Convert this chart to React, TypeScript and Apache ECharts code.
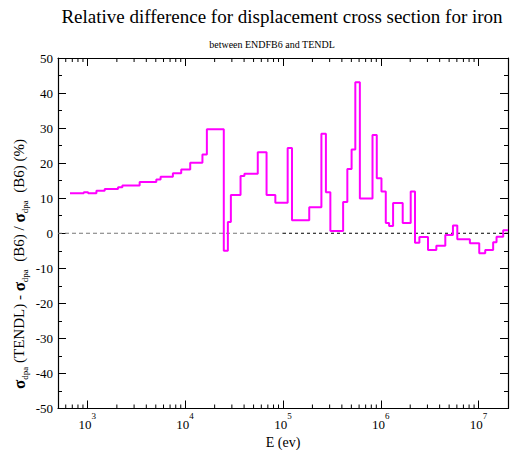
import React, { useEffect, useRef } from 'react';
import * as echarts from 'echarts';

// Step start energies (eV); last entry closes the final step
const energyEdges = [
  663, 917, 1016, 1236, 1502, 2055, 2276, 3420, 5060, 5600, 7480, 9100, 11250, 15000, 16650,
  24800, 27300, 29300, 36800, 40300, 55200, 67900, 83500, 111600, 123600, 185500, 247000,
  274700, 305000, 412000, 455000, 503000, 549000, 611000, 823000, 910000, 1016000, 1125000,
  1216000, 1336000, 1676000, 2023000, 2238000, 2483000, 3040000, 3700000, 4570000, 5470000,
  6060000, 8150000, 10160000, 11700000, 14100000, 15270000, 17860000, 20000000,
];
// Relative difference (%) for each step
const diffPercent = [
  11.4, 11.7, 11.4, 12.1, 12.6, 13.1, 13.6, 14.6, 15.3, 16.1, 17.1, 18.2, 20.1, 22.5, 29.7,
  -5.0, 3.2, 10.9, 16.3, 17.0, 23.1, 10.9, 8.7, 24.3, 3.7, 7.4, 28.4,
  11.7, 0.65, 8.9, 18.3, 23.9, 43.1, 9.9, 28.0, 15.7, 11.9, 2.9,
  2.1, 8.6, 2.9, 11.9, -2.7, -1.05, -4.8, -3.6, -0.5, 2.2,
  -1.7, -2.85, -5.7, -4.8, -2.6, -1.0, 0.85, 0.85,
];
const xMin = 500;
const xMax = 20000000;
const yMin = -50;
const yMax = 50;
const yInterval = 10;
const majorExponents = [3, 4, 5, 6, 7];
const minorMantissas = [2, 3, 4, 5, 6, 7, 8, 9];
const zeroSplit = 100000;

const FONT = 'Liberation Serif';

export default function App() {
  const ref = useRef<HTMLDivElement>(null);
  useEffect(() => {
    document.body.style.margin = '0';
    const el = ref.current;
    if (!el) return;
    const chart = echarts.init(el, undefined, { renderer: 'svg' });

    const minorTicks: number[][] = [];
    for (let e = 2; e <= 7; e++) {
      for (const m of minorMantissas) {
        const v = m * Math.pow(10, e);
        if (v > xMin && v < xMax) minorTicks.push([v, 0]);
      }
    }

    const stepData = energyEdges.map((e, i) => [e, diffPercent[i]]);

    const isMajor = (v: number) => {
      const l = Math.log10(v);
      return Math.abs(l - Math.round(l)) < 1e-6 && majorExponents.includes(Math.round(l));
    };

    const frameLine = { show: true, onZero: false, lineStyle: { color: '#000', width: 1.2 } };

    chart.setOption({
      animation: false,
      textStyle: { fontFamily: FONT },
      grid: { left: 58, right: 8, top: 58, height: 350.5, containLabel: false, outerBoundsMode: 'none' },
      xAxis: [
        {
          type: 'log',
          logBase: 10,
          min: xMin,
          max: xMax,
          position: 'bottom',
          axisLine: frameLine,
          axisTick: { show: true, inside: true, length: 8, lineStyle: { color: '#000' } },
          splitLine: { show: false },
          axisLabel: {
            margin: 2.5,
            fontFamily: FONT,
            formatter: (v: number) =>
              isMajor(v) ? `{b|10}{e|${Math.round(Math.log10(v))}}{h| }` : '',
            rich: {
              b: { fontFamily: FONT, fontSize: 13, color: '#000', lineHeight: 13, verticalAlign: 'bottom' },
              e: { fontFamily: FONT, fontSize: 9, color: '#000', lineHeight: 9, verticalAlign: 'top' },
              h: { fontFamily: FONT, fontSize: 1, lineHeight: 20, color: 'rgba(0,0,0,0)' },
            },
          },
          name: 'E (ev)',
          nameLocation: 'middle',
          nameGap: 23,
          nameTextStyle: { fontFamily: FONT, fontSize: 14, color: '#000' },
        },
        {
          type: 'log',
          logBase: 10,
          min: xMin,
          max: xMax,
          position: 'top',
          axisLine: frameLine,
          axisTick: { show: true, inside: true, length: 8, lineStyle: { color: '#000' } },
          axisLabel: { show: false },
          splitLine: { show: false },
        },
      ],
      yAxis: [
        {
          type: 'value',
          min: yMin,
          max: yMax,
          interval: yInterval,
          position: 'left',
          axisLine: frameLine,
          axisTick: { show: true, inside: true, length: 8, lineStyle: { color: '#000' } },
          minorTick: { show: true, splitNumber: 2, length: 4, lineStyle: { color: '#000' } },
          splitLine: { show: false },
          axisLabel: { margin: 5, fontFamily: FONT, fontSize: 13, color: '#000' },
        },
        {
          type: 'value',
          min: yMin,
          max: yMax,
          interval: yInterval,
          position: 'right',
          axisLine: frameLine,
          axisTick: { show: true, inside: true, length: 8, lineStyle: { color: '#000' } },
          minorTick: { show: true, splitNumber: 2, length: 4, lineStyle: { color: '#000' } },
          splitLine: { show: false },
          axisLabel: { show: false },
        },
      ],
      graphic: [
        {
          type: 'text',
          x: 282,
          y: 16,
          style: {
            text: 'Relative difference for displacement cross section for iron',
            fontFamily: FONT,
            fontSize: 19,
            fill: '#000',
            align: 'center',
            verticalAlign: 'middle',
          },
        },
        {
          type: 'text',
          x: 272,
          y: 44,
          style: {
            text: 'between ENDFB6 and TENDL',
            fontFamily: FONT,
            fontSize: 10,
            fill: '#000',
            align: 'center',
            verticalAlign: 'middle',
          },
        },
        {
          type: 'text',
          x: 20,
          y: 264,
          rotation: Math.PI / 2,
          style: {
            text:
              '{s|σ}{sub|dpa}{n| (TENDL) - }{s|σ}{sub|dpa}{n|  (B6) / }{s|σ}{sub|dpa}{n|  (B6) (%)}',
            align: 'center',
            verticalAlign: 'middle',
            fontFamily: FONT,
            rich: {
              s: { fontFamily: FONT, fontSize: 17, fontWeight: 'bold', fill: '#000', lineHeight: 18, verticalAlign: 'top' },
              n: { fontFamily: FONT, fontSize: 15, fill: '#000', lineHeight: 18, verticalAlign: 'top' },
              sub: { fontFamily: FONT, fontSize: 9, fill: '#000', lineHeight: 9, verticalAlign: 'bottom' },
            },
          },
        },
      ],
      series: [
        {
          type: 'line',
          xAxisIndex: 0,
          yAxisIndex: 0,
          data: [[xMin, 0], [zeroSplit, 0]],
          symbol: 'none',
          lineStyle: { color: '#777', width: 1, type: [4, 3] },
          silent: true,
        },
        {
          type: 'line',
          xAxisIndex: 0,
          yAxisIndex: 0,
          data: [[zeroSplit, 0], [xMax, 0]],
          symbol: 'none',
          lineStyle: { color: '#000', width: 1, type: [3, 3] },
          silent: true,
        },
        {
          type: 'line',
          xAxisIndex: 0,
          yAxisIndex: 0,
          step: 'end',
          data: stepData,
          symbol: 'none',
          lineStyle: { color: '#ff00ff', width: 2 },
        },
        {
          type: 'custom',
          xAxisIndex: 0,
          yAxisIndex: 0,
          data: minorTicks,
          silent: true,
          clip: false,
          renderItem: (params: any, api: any) => {
            const x = api.coord([api.value(0), 0])[0];
            const cs = params.coordSys;
            const bottom = cs.y + cs.height;
            return {
              type: 'group',
              children: [
                { type: 'line', shape: { x1: x, y1: bottom, x2: x, y2: bottom - 4 }, style: { stroke: '#000', lineWidth: 1 } },
                { type: 'line', shape: { x1: x, y1: cs.y, x2: x, y2: cs.y + 4 }, style: { stroke: '#000', lineWidth: 1 } },
              ],
            };
          },
        },
      ],
    });

    return () => {
      chart.dispose();
    };
  }, []);
  return <div ref={ref} style={{ width: 516, height: 450 }} />;
}
